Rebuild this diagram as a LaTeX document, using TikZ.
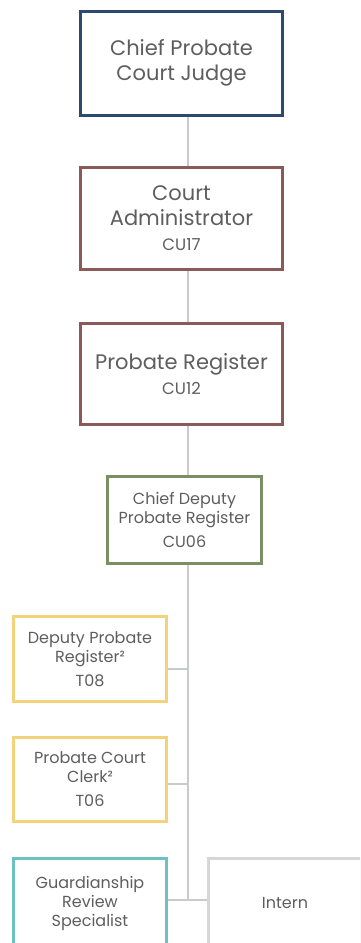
\documentclass[tikz,border=0pt]{standalone}
\usepackage{fontspec}
\setmainfont{Poppins}
\usetikzlibrary{positioning}

\definecolor{judgeblue}{HTML}{2C4A6E}
\definecolor{adminred}{HTML}{8A5A5A}
\definecolor{deputygreen}{HTML}{7C8F62}
\definecolor{clerkyellow}{HTML}{F2D27A}
\definecolor{guardteal}{HTML}{6CC2C2}
\definecolor{interngray}{HTML}{D6D6D6}
\definecolor{linegray}{HTML}{C9CACA}
\definecolor{textgray}{HTML}{5E5E5E}

\tikzset{
  post/.style={draw, line width=3pt, fill=white, align=center, text=textgray, inner sep=0pt},
  bigpost/.style={post, font=\fontsize{21}{25}\selectfont},
  smallpost/.style={post, font=\fontsize{16}{19}\selectfont},
  link/.style={draw=linegray, line width=2.6pt},
}
\newcommand{\grade}[1]{{\fontsize{16.5}{19}\selectfont #1}}

\begin{document}
\begin{tikzpicture}[x=1pt,y=-1pt]
   \clip (0,0) rectangle (360,943);
   \fill[white] (0,0) rectangle (360,943);
   % management chain
   \node[name=judge, bigpost, draw=judgeblue, minimum width=202pt, minimum height=104pt] at (181.5,63) {Chief Probate\\Court Judge};
   \node[name=admin, bigpost, draw=adminred, minimum width=202pt, minimum height=102pt] at (181.5,218) {Court\\Administrator\\\grade{CU17}};
   \node[name=register, bigpost, draw=adminred, minimum width=202pt, minimum height=101pt] at (181.5,374) {Probate Register\\\grade{CU12}};
   \node[name=chiefdeputy, smallpost, draw=deputygreen, minimum width=154pt, minimum height=87.5pt] at (184.5,520) {Chief Deputy\\Probate Register\\[5pt]CU06};
   % staff
   \node[name=deputy, smallpost, draw=clerkyellow, minimum width=153pt, minimum height=85pt] at (90,659) {Deputy Probate\\Register²\\[5pt]T08};
   \node[name=clerk, smallpost, draw=clerkyellow, minimum width=153pt, minimum height=84pt] at (90,779.5) {Probate Court\\Clerk²\\[5pt]T06};
   \node[name=guardian, smallpost, draw=guardteal, minimum width=153pt, minimum height=90pt] at (90,903) {Guardianship\\Review\\Specialist};
   \node[name=intern, smallpost, draw=interngray, minimum width=153pt, minimum height=90pt] at (285,903) {Intern};
   \coordinate (bus) at (188,900);
   % connectors
   \draw[link] (judge.south -| bus) -- (admin.north -| bus);
   \draw[link] (admin.south -| bus) -- (register.north -| bus);
   \draw[link] (register.south -| bus) -- (chiefdeputy.north -| bus);
   \draw[link] (chiefdeputy.south -| bus) -- (bus);
   \draw[link] ([yshift=-10pt]deputy.east) -- ([yshift=-10pt]deputy.east -| bus);
   \draw[link] ([yshift=-4.5pt]clerk.east) -- ([yshift=-4.5pt]clerk.east -| bus);
   \draw[link] (guardian.east |- bus) -- (intern.west |- bus);
\end{tikzpicture}
\end{document}
